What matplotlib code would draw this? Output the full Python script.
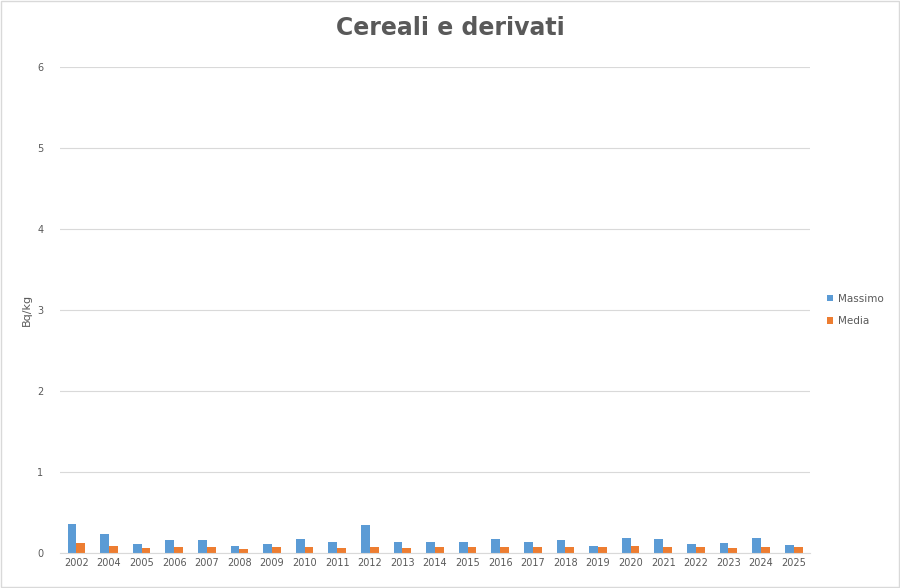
import matplotlib
matplotlib.use("Agg")
import matplotlib.pyplot as plt
import numpy as np

years = ["2002","2004","2005","2006","2007","2008","2009","2010","2011","2012","2013","2014",
         "2015","2016","2017","2018","2019","2020","2021","2022","2023","2024","2025"]
massimo = [0.36,0.23,0.11,0.16,0.16,0.09,0.11,0.17,0.13,0.34,0.14,0.14,0.14,0.17,0.14,0.16,0.09,0.18,0.17,0.11,0.12,0.19,0.10]
media = [0.12,0.09,0.06,0.07,0.08,0.05,0.07,0.07,0.06,0.07,0.06,0.07,0.08,0.07,0.07,0.08,0.08,0.09,0.08,0.07,0.06,0.07,0.07]

fig = plt.figure(figsize=(9, 5.88), dpi=100)
ax = fig.add_axes([60/900, 35/588, 750/900, 486/588])
x = np.arange(len(years))
w = 0.27
ax.bar(x - w/2, massimo, w, color="#5B9BD5", label="Massimo")
ax.bar(x + w/2, media, w, color="#ED7D31", label="Media")
ax.set_xlim(-0.5, len(years) - 0.5)
ax.set_ylim(0, 6)
ax.set_yticks(range(7))
ax.set_xticks(x)
ax.set_xticklabels(years)
ax.tick_params(axis="both", length=0, labelsize=7, colors="#595959")
ax.tick_params(axis="y", pad=12)
ax.grid(axis="y", color="#D9D9D9", linewidth=0.8)
ax.set_axisbelow(True)
for s in ["top", "right", "left"]:
    ax.spines[s].set_visible(False)
ax.spines["bottom"].set_color("#D9D9D9")
ax.set_ylabel("Bq/kg", fontsize=8, color="#595959", labelpad=4)
fig.suptitle("Cereali e derivati", x=450/900, y=1 - 28/588, va="center",
             fontsize=17, fontweight="bold", color="#595959")
ax.legend(loc="center left", bbox_to_anchor=(1.01, 0.5), frameon=False,
          fontsize=7.5, labelcolor="#595959", handlelength=0.6, handleheight=0.6,
          handletextpad=0.5, labelspacing=1.2)
fig.patches.append(plt.Rectangle((0.001, 0.001), 0.998, 0.998, transform=fig.transFigure,
                                 fill=False, edgecolor="#D9D9D9", linewidth=1))
fig.savefig("out.png", dpi=100)
